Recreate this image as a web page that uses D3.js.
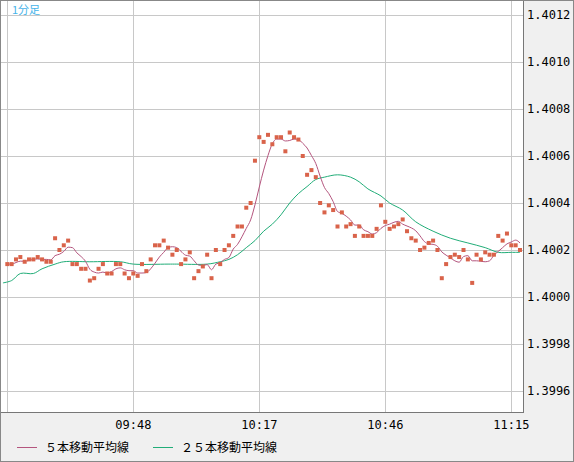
<!DOCTYPE html>
<html>
<head>
  <meta charset="utf-8">
  <script src="https://d3js.org/d3.v7.min.js"></script>
</head>
<style>
  body { margin: 0; }
  svg { display: block; }
  .tick-label { font-family: "DejaVu Sans Mono", monospace; font-size: 12px; fill: #000; }
  .legend { font-family: "Noto Sans CJK JP", sans-serif; font-size: 12px; fill: #000; }
</style>
<body>
  <svg id="chart" width="574" height="462"></svg>
  <script>
    // 1-minute closes from 09:19 to 11:17
    const startTime = "09:19";
    const closes = [
      1.40014, 1.40014, 1.40016, 1.40017, 1.40015, 1.40016, 1.40016, 1.40017, 1.40016, 1.40015,
      1.40015, 1.40025, 1.40020, 1.40022, 1.40024, 1.40014, 1.40014, 1.40012, 1.40012, 1.40007,
      1.40008, 1.40012, 1.40014, 1.40010, 1.40010, 1.40014, 1.40014, 1.40010, 1.40008, 1.40010,
      1.40009, 1.40014, 1.40011, 1.40016, 1.40022, 1.40022, 1.40024, 1.40021, 1.40018, 1.40020,
      1.40014, 1.40016, 1.40019, 1.40008, 1.40011, 1.40013, 1.40018, 1.40008, 1.40020, 1.40014,
      1.40020, 1.40022, 1.40026, 1.40030, 1.40030, 1.40038, 1.40040, 1.40058, 1.40068, 1.40066,
      1.40069, 1.40065, 1.40068, 1.40068, 1.40062, 1.40070, 1.40068, 1.40067, 1.40060, 1.40052,
      1.40054, 1.40051, 1.40040, 1.40036, 1.40039, 1.40037, 1.40030, 1.40036, 1.40030, 1.40031,
      1.40026, 1.40030, 1.40026, 1.40026, 1.40026, 1.40029, 1.40039, 1.40032, 1.40029, 1.40030,
      1.40031, 1.40033, 1.40028, 1.40025, 1.40024, 1.40020, 1.40021, 1.40023, 1.40024, 1.40020,
      1.40008, 1.40014, 1.40017, 1.40018, 1.40017, 1.40020, 1.40016, 1.40006, 1.40018, 1.40016,
      1.40019, 1.40018, 1.40018, 1.40026, 1.40024, 1.40027, 1.40022, 1.40022, 1.40020
    ];
    // 25-period MA
    const ma25Times = ["09:18","09:20","09:22","09:25","09:27","09:30","09:32","09:38","09:45","09:48",
      "09:56","09:58","10:05","10:08","10:10","10:12","10:14","10:16","10:18","10:20","10:22","10:24",
      "10:26","10:28","10:30","10:32","10:35","10:38","10:40","10:42","10:45","10:47","10:50","10:53",
      "10:57","11:01","11:05","11:09","11:12","11:15","11:17"];
    const ma25Values = [1.40006,1.40007,1.40010,1.40010,1.40012,1.40014,1.40015,1.40015,1.40015,1.40014,
      1.40014,1.40014,1.40014,1.40015,1.40016,1.40018,1.40021,1.40024,1.40028,1.40031,1.40035,1.40040,
      1.40044,1.40047,1.40050,1.40051,1.40052,1.40051,1.40049,1.40046,1.40043,1.40040,1.40037,1.40032,
      1.40028,1.40025,1.40023,1.40021,1.40019,1.40019,1.40019];
    const timeTicks = ["09:19", "09:48", "10:17", "10:46", "11:15"];
    const priceTicks = [1.3996, 1.3998, 1.4000, 1.4002, 1.4004, 1.4006, 1.4008, 1.4010, 1.4012];

    const toMin = s => { const [h, m] = s.split(":").map(Number); return h * 60 + m; };
    const t0 = toMin(startTime);

    const svg = d3.select("#chart");
    const pLeft = 1, pRight = 523, pTop = 0, pBottom = 412;

    svg.append("rect").attr("width", 574).attr("height", 462).attr("fill", "#f0f0f0");
    svg.append("rect").attr("x", pLeft).attr("y", pTop).attr("width", pRight - pLeft).attr("height", pBottom - pTop).attr("fill", "#fff");

    const x = d3.scaleLinear().domain([t0, t0 + 29 * 4]).range([7.3, 511.3]);
    const y = d3.scaleLinear().domain([1.3996, 1.4012]).range([391, 15]);

    const grid = svg.append("g").attr("stroke", "#c8c8c8").attr("stroke-width", 1);
    priceTicks.forEach(p => grid.append("line").attr("x1", pLeft).attr("x2", pRight)
      .attr("y1", Math.round(y(p)) + 0.5).attr("y2", Math.round(y(p)) + 0.5));
    timeTicks.forEach(t => grid.append("line").attr("y1", pTop).attr("y2", pBottom)
      .attr("x1", Math.round(x(toMin(t))) + 0.5).attr("x2", Math.round(x(toMin(t))) + 0.5));

    const pts = closes.map((v, i) => ({ t: t0 + i, v }));
    const ma5 = pts.map((d, i) => {
      const w = closes.slice(Math.max(0, i - 4), i + 1);
      return { t: d.t, v: d3.mean(w) };
    });
    const ma25 = ma25Times.map((t, i) => ({ t: toMin(t), v: ma25Values[i] }));

    const line = d3.line().x(d => x(d.t)).y(d => y(d.v)).curve(d3.curveMonotoneX);
    const smooth = d3.line().x(d => x(d.t)).y(d => y(d.v)).curve(d3.curveCatmullRom);
    const plot = svg.append("g");
    plot.append("path").attr("d", smooth(ma25)).attr("fill", "none").attr("stroke", "#21ad78").attr("stroke-width", 1);
    plot.append("path").attr("d", line(ma5)).attr("fill", "none").attr("stroke", "#b4557e").attr("stroke-width", 1);
    plot.selectAll("rect.dot").data(pts).join("rect").attr("class", "dot")
      .attr("x", d => x(d.t) - 2).attr("y", d => y(d.v) - 2)
      .attr("width", 4).attr("height", 4).attr("fill", "#d9634a");

    // borders
    svg.append("rect").attr("x", pLeft - 0.5).attr("y", -0.5).attr("width", pRight - pLeft + 1).attr("height", pBottom + 1)
      .attr("fill", "none").attr("stroke", "#777");
    svg.append("rect").attr("x", 0.5).attr("y", 0.5).attr("width", 573).attr("height", 461)
      .attr("fill", "none").attr("stroke", "#888");

    svg.append("text").attr("x", 12).attr("y", 14).attr("fill", "#45b4ea")
      .attr("font-family", "Noto Sans CJK JP, sans-serif").attr("font-size", 11).text("1分足");

    priceTicks.forEach(p => svg.append("text").attr("class", "tick-label")
      .attr("x", 527).attr("y", y(p) + 4).text(p.toFixed(4)));
    timeTicks.slice(1).forEach(t => svg.append("text").attr("class", "tick-label")
      .attr("text-anchor", "middle").attr("x", x(toMin(t))).attr("y", 429).text(t));

    const legend = [["５本移動平均線", "#b4557e", 17], ["２５本移動平均線", "#21ad78", 153]];
    legend.forEach(([label, color, lx]) => {
      svg.append("line").attr("x1", lx).attr("x2", lx + 20).attr("y1", 447.5).attr("y2", 447.5)
        .attr("stroke", color);
      svg.append("text").attr("class", "legend").attr("x", lx + 28).attr("y", 452).text(label);
    });
  </script>
</body>
</html>
